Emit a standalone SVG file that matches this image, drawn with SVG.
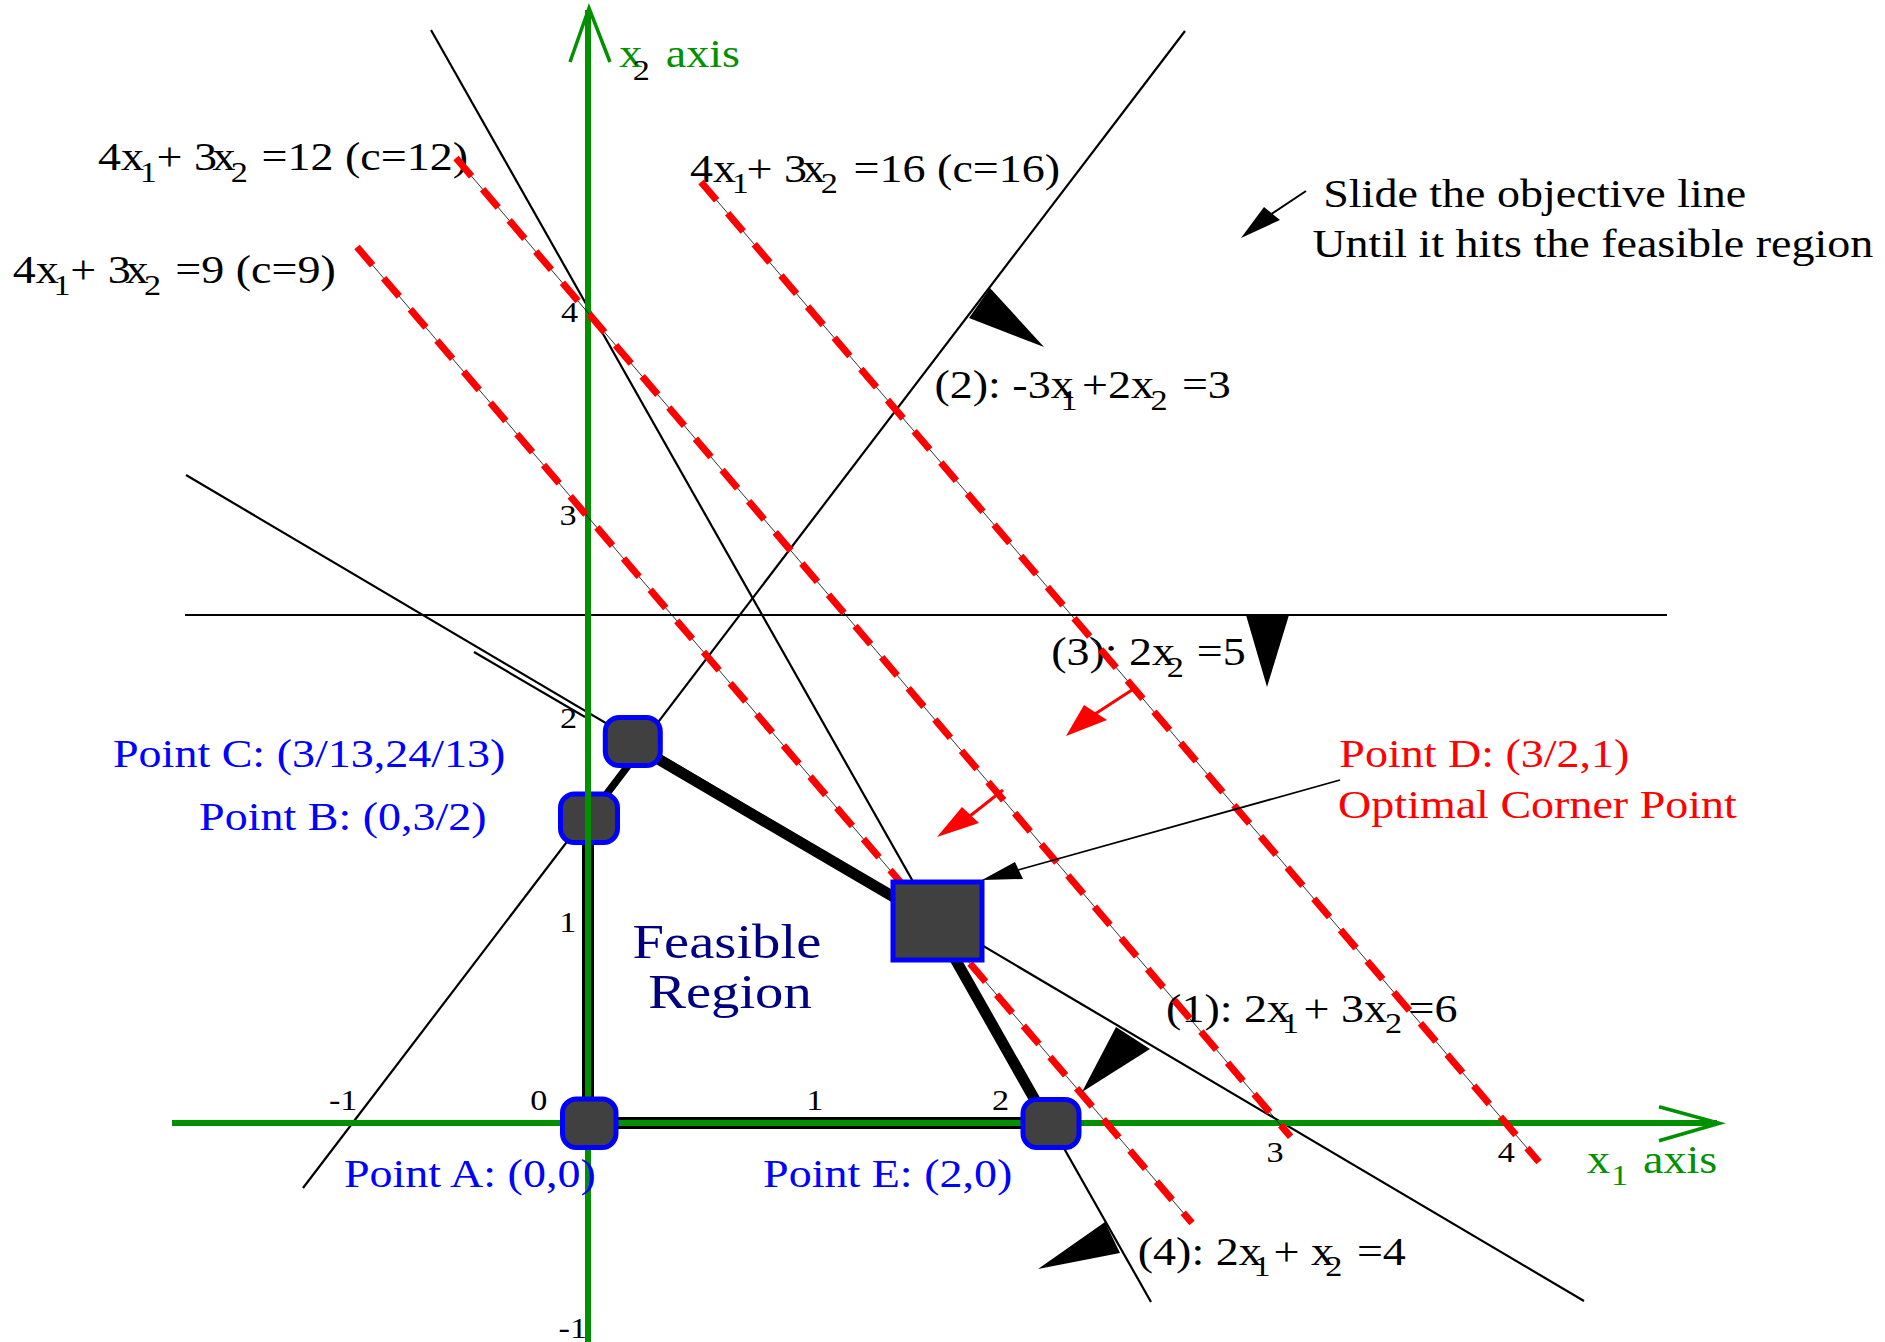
<svg xmlns="http://www.w3.org/2000/svg" width="1885" height="1342" viewBox="0 0 1885 1342">
<style>
.ln{stroke:#000;stroke-width:2.2;fill:none}
.obj{stroke:#f00;stroke-width:7;stroke-dasharray:24 17;fill:none}
.objc{stroke:#000;stroke-width:0.8;fill:none}
.ax{stroke:#009000;stroke-width:6;fill:none}
.axh{stroke:#009000;stroke-width:3.5;fill:none}
.bd{stroke:#000;fill:none;stroke-linecap:round}
.nd{fill:#404040;stroke:#0000ff;stroke-width:5}
.tri{fill:#000;stroke:none}
text{font-family:"Liberation Serif","Times New Roman",serif}
.t{font-size:39px;fill:#000}
.s{font-size:29px}
.tk{font-size:29px;fill:#000}
.bl{fill:#0000ff}
.rd{fill:#ff0000}
.gr{fill:#009000}
.nv{fill:#000080;font-size:48px}
</style>

<g id="constraints">
  <line class="ln" x1="186" y1="475" x2="1584" y2="1301"/>
  <line class="ln" x1="474" y1="652" x2="585" y2="717" stroke-width="4"/>
  <line class="ln" x1="303" y1="1188" x2="1185" y2="31"/>
  <line class="ln" x1="185" y1="615" x2="1667" y2="615" stroke-width="2.6"/>
  <line class="ln" x1="431" y1="30" x2="1151" y2="1302"/>
</g>

<g id="feasible-boundary">
  <line class="bd" x1="588" y1="1123" x2="1048" y2="1123" stroke-width="12"/>
  <line class="bd" x1="588" y1="1123" x2="588" y2="819" stroke-width="12"/>
  <line class="bd" x1="1048" y1="1123" x2="933" y2="920" stroke-width="11"/>
  <line class="bd" x1="933" y1="920" x2="641" y2="749" stroke-width="11"/>
  <line class="bd" x1="641" y1="749" x2="588" y2="819" stroke-width="7"/>
</g>

<g id="node-B">
  <rect class="nd" x="560.5" y="794" width="57" height="48.5" rx="14"/>
  <g transform="scale(1.18 1)"><text class="t bl" x="168.7" y="830">Point B: (0,3/2)</text></g>
</g>

<g id="axes">
  <line class="ax" x1="588" y1="1342" x2="588" y2="10"/>
  <polyline class="axh" points="570,62 589,8 610,62"/>
  <line class="ax" x1="172" y1="1123" x2="1717" y2="1123"/>
  <polyline class="axh" points="1659,1106.7 1719.5,1123.3 1659,1140.7"/>
  <g transform="scale(1.18 1)">
    <text class="t gr" y="66.7"><tspan x="524.7">x</tspan><tspan class="s" x="536.2" y="80" fill="#000">2</tspan><tspan x="564.2" y="66.7">axis</tspan></text>
    <text class="t gr" y="1173.3"><tspan x="1344.9">x</tspan><tspan class="s" x="1365.3" y="1185">1</tspan><tspan x="1392.4" y="1173.3">axis</tspan></text>
    <text class="tk" x="278.8" y="1110">-1</text>
    <text class="tk" x="449.3" y="1110">0</text>
    <text class="tk" x="683.2" y="1110">1</text>
    <text class="tk" x="840.7" y="1110">2</text>
    <text class="tk" x="1073.3" y="1161.7">3</text>
    <text class="tk" x="1269.2" y="1161.7">4</text>
    <text class="tk" x="473.9" y="932">1</text>
    <text class="tk" x="474.6" y="728">2</text>
    <text class="tk" x="474.2" y="525">3</text>
    <text class="tk" x="475.4" y="322">4</text>
    <text class="tk" x="473.4" y="1338">-1</text>
  </g>
</g>

<g id="labels" transform="scale(1.18 1)">
  <text class="t" y="170"><tspan x="83.05">4x</tspan><tspan class="s" x="118.5" y="182">1</tspan><tspan x="132.7" y="170">+ 3</tspan><tspan x="180">x</tspan><tspan class="s" x="195.5" y="182">2</tspan><tspan x="221.7" y="170">=12 (c=12)</tspan></text>
  <text class="t" y="283.3"><tspan x="10.8">4x</tspan><tspan class="s" x="45.3" y="295">1</tspan><tspan x="59.6" y="283.3">+ 3</tspan><tspan x="106.3">x</tspan><tspan class="s" x="122" y="295">2</tspan><tspan x="148.6" y="283.3">=9 (c=9)</tspan></text>
  <text class="t" y="181.7"><tspan x="584.7">4x</tspan><tspan class="s" x="620.2" y="193.3">1</tspan><tspan x="632.7" y="181.7">+ 3</tspan><tspan x="680">x</tspan><tspan class="s" x="695.5" y="193.3">2</tspan><tspan x="723.4" y="181.7">=16 (c=16)</tspan></text>
  <text class="t" x="1121.4" y="207">Slide the objective line</text>
  <text class="t" x="1112.2" y="257">Until it hits the feasible region</text>
  <text class="t" y="398.3"><tspan x="791.9">(2): -3x</tspan><tspan class="s" x="898.8" y="410">1</tspan><tspan x="916.9" y="398.3">+2x</tspan><tspan class="s" x="975" y="410">2</tspan><tspan x="1001.6" y="398.3">=3</tspan></text>
  <text class="t" y="665"><tspan x="890.8">(3): 2x</tspan><tspan class="s" x="988.8" y="676.7">2</tspan><tspan x="1014.3" y="665">=5</tspan></text>
  <text class="t" y="1021.7"><tspan x="988.2">(1): 2x</tspan><tspan class="s" x="1086.5" y="1033.3">1</tspan><tspan x="1104.7" y="1021.7">+ 3x</tspan><tspan class="s" x="1173.8" y="1033.3">2</tspan><tspan x="1193.7" y="1021.7">=6</tspan></text>
  <text class="t" y="1265"><tspan x="964.2">(4): 2x</tspan><tspan class="s" x="1062.3" y="1276">1</tspan><tspan x="1079.3" y="1265">+ x</tspan><tspan class="s" x="1123" y="1276">2</tspan><tspan x="1149.9" y="1265">=4</tspan></text>
  <text class="nv" x="536.1" y="958">Feasible</text>
  <text class="nv" x="549.3" y="1008">Region</text>
</g>

<g id="objective-lines">
  <line class="objc" x1="357" y1="247" x2="1192" y2="1223"/>
  <line class="obj" x1="357" y1="247" x2="1192" y2="1223"/>
  <line class="objc" x1="456" y1="158" x2="1290.6" y2="1136.7"/>
  <line class="obj" x1="456" y1="158" x2="1290.6" y2="1136.7"/>
  <line class="objc" x1="701" y1="182" x2="1539" y2="1162"/>
  <line class="obj" x1="701" y1="182" x2="1539" y2="1162"/>
</g>

<g id="node-A">
  <rect class="nd" x="562.5" y="1099" width="53.5" height="48.5" rx="14"/>
  <g transform="scale(1.18 1)"><text class="t bl" x="291.5" y="1187">Point A: (0,0)</text></g>
</g>
<g id="node-C">
  <rect class="nd" x="605.3" y="717.5" width="55" height="48" rx="14"/>
  <g transform="scale(1.18 1)"><text class="t bl" x="95.8" y="767">Point C: (3/13,24/13)</text></g>
</g>
<g id="node-D">
  <rect class="nd" x="893" y="882" width="89" height="78" stroke-width="4.5"/>
  <g transform="scale(1.18 1)"><text class="t rd" x="1135" y="767">Point D: (3/2,1)</text><text class="t rd" x="1134" y="818">Optimal Corner Point</text></g>
</g>
<g id="node-E">
  <rect class="nd" x="1023" y="1099.5" width="56" height="48" rx="14"/>
  <g transform="scale(1.18 1)"><text class="t bl" x="646.7" y="1187">Point E: (2,0)</text></g>
</g>

<g id="connectors">
  <polygon class="tri" points="969,318 990,288 1044,347"/>
  <polygon class="tri" points="1246,615 1289,615 1267,687"/>
  <polygon class="tri" points="1116,1027 1150,1049 1082,1092"/>
  <polygon class="tri" points="1105,1222 1120,1253 1038,1269"/>
  <line x1="1306" y1="191" x2="1270" y2="215" stroke="#000" stroke-width="2"/>
  <polygon class="tri" points="1241,238 1264,207 1280,220"/>
  <line x1="1135" y1="688" x2="1095" y2="714" stroke="#f00" stroke-width="3"/>
  <polygon points="1066,736 1084,705 1107,720" fill="#f00"/>
  <line x1="1003" y1="790" x2="970" y2="816" stroke="#f00" stroke-width="3"/>
  <polygon points="937,837 962,807 979,823" fill="#f00"/>
  <line x1="1340" y1="780" x2="1018" y2="870" stroke="#000" stroke-width="1.8"/>
  <polygon class="tri" points="982,880 1015,862 1023,879"/>
</g>
</svg>
